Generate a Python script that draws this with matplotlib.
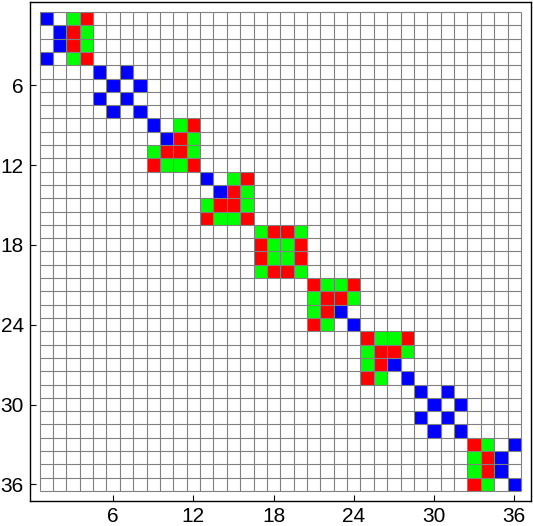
import matplotlib
matplotlib.use('Agg')
import matplotlib.pyplot as plt
import numpy as np
from matplotlib.colors import ListedColormap

# 4x4 diagonal blocks, top-left to bottom-right
# B = blue, G = green, R = red, . = empty
block_1 = ['B.GR', '.BRG', '.BRG', 'B.GR']
block_2 = ['B.B.', '.B.B', 'B.B.', '.B.B']
block_3 = ['B.GR', '.BRG', 'GRRG', 'RGGR']
block_4 = ['B.GR', '.BRG', 'GRRG', 'RGGR']
block_5 = ['GRRG', 'RGGR', 'RGGR', 'GRRG']
block_6 = ['RGGR', 'GRRG', 'GRB.', 'RG.B']
block_7 = ['RGGR', 'GRRG', 'GRB.', 'RG.B']
block_8 = ['B.B.', '.B.B', 'B.B.', '.B.B']
block_9 = ['RG.B', 'GRB.', 'GRB.', 'RG.B']
blocks = [block_1, block_2, block_3, block_4, block_5,
          block_6, block_7, block_8, block_9]

tick_values = [6, 12, 18, 24, 30, 36]

codes = {'.': 0, 'B': 1, 'G': 2, 'R': 3}
n = 4 * len(blocks)
matrix = np.zeros((n, n), dtype=int)
for b, block in enumerate(blocks):
    for i, row in enumerate(block):
        for j, ch in enumerate(row):
            matrix[4 * b + i, 4 * b + j] = codes[ch]

cmap = ListedColormap(['#ffffff', '#0000ff', '#00ff00', '#ff0000'])

fig = plt.figure(figsize=(5.33, 5.26), dpi=100)
ax = fig.add_axes([29.5 / 533, 25 / 526, 501.5 / 533, 499 / 526])

edges = np.arange(n + 1) + 0.5
ax.pcolormesh(edges, edges, matrix, cmap=cmap, vmin=-0.5, vmax=3.5,
              edgecolors='none', antialiased=False)
# cell borders, drawn once per line so shared edges are not doubled
ax.hlines(edges, edges[0], edges[-1], colors='#808080', linewidth=0.8)
ax.vlines(edges, edges[0], edges[-1], colors='#808080', linewidth=0.8)

pad = 0.75
ax.set_xlim(0.5 - pad, n + 0.5 + pad)
ax.set_ylim(n + 0.5 + pad, 0.5 - pad)

ax.set_xticks(tick_values)
ax.set_yticks(tick_values)
ax.tick_params(direction='in', length=4, width=0.8, labelsize=15,
               top=False, right=False)
ax.tick_params(axis='x', pad=4)
ax.tick_params(axis='y', pad=4)
for label in ax.get_xticklabels() + ax.get_yticklabels():
    label.set_fontfamily('Liberation Sans')
for spine in ax.spines.values():
    spine.set_linewidth(1.0)

fig.savefig('out.png', dpi=100)
